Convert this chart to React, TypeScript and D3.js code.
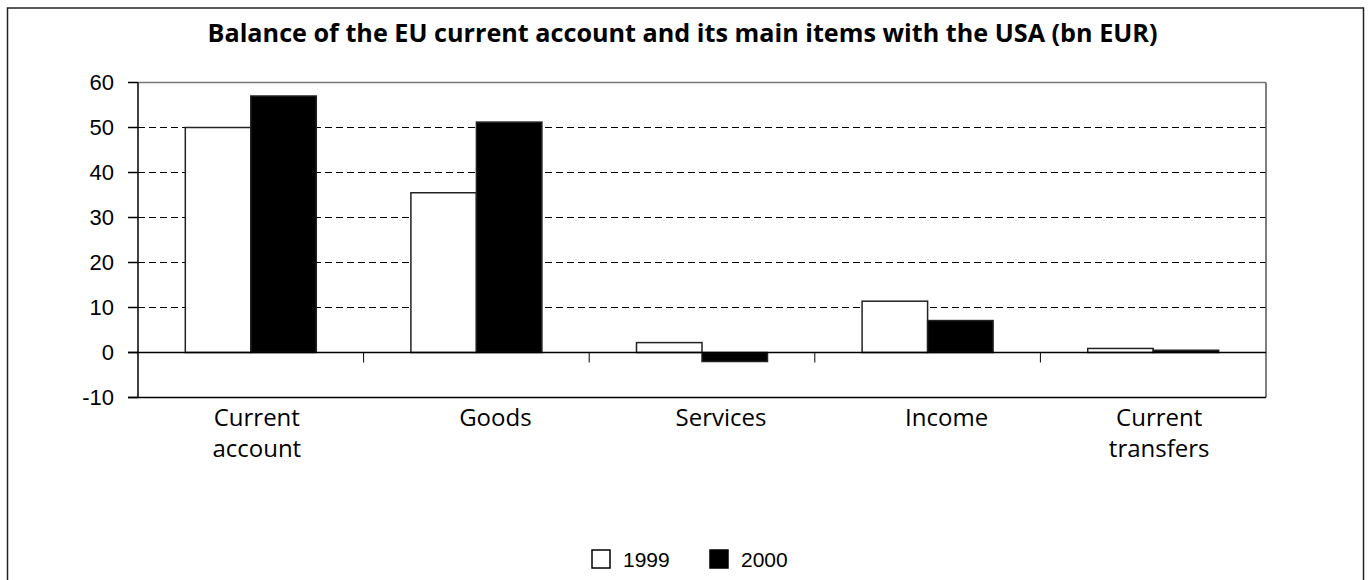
import React from "react";
import * as d3 from "d3";

const categories = ["Current account", "Goods", "Services", "Income", "Current transfers"];
const categoryLines = [["Current", "account"], ["Goods"], ["Services"], ["Income"], ["Current", "transfers"]];
const seriesNames = ["1999", "2000"];
const values1999 = [50, 35.5, 2.2, 11.4, 0.9];
const values2000 = [57, 51.2, -2, 7.1, 0.5];
const yTicks = [-10, 0, 10, 20, 30, 40, 50, 60];
const title = "Balance of the EU current account and its main items with the USA (bn EUR)";

const W = 1372;
const H = 580;
const plot = { left: 138, right: 1266, top: 82.5, bottom: 397.5 };
const fills = ["#ffffff", "#000000"];

export default function App() {
  const x = d3.scaleBand<string>().domain(categories).range([plot.left, plot.right]).padding(0);
  const bw = x.bandwidth();
  const inner = d3
    .scaleBand<string>()
    .domain(seriesNames)
    .range([bw * 0.2097, bw * (1 - 0.2097)])
    .padding(0);
  const y = d3.scaleLinear().domain([-10, 60]).range([plot.bottom, plot.top]);
  const series = [values1999, values2000];
  const axisFont = "'Liberation Sans', Arial, sans-serif";
  const catFont = "'Open Sans', sans-serif";

  return (
    <svg width={W} height={H} style={{ position: "absolute", left: 0, top: 0, background: "#fff" }}>
      <rect x={7.5} y={8} width={1356} height={620} fill="#fff" stroke="#222" strokeWidth={1.5} />
      <text
        x={682.5}
        y={41.5}
        textAnchor="middle"
        fontFamily={catFont}
        fontWeight={700}
        fontSize={25.2}
        fill="#000"
      >
        {title}
      </text>

      {/* gridlines */}
      {yTicks
        .filter((t) => t > 0 && t < 60)
        .map((t) => (
          <line
            key={"g" + t}
            x1={plot.left}
            x2={plot.right}
            y1={y(t)}
            y2={y(t)}
            stroke="#000"
            strokeWidth={1}
            strokeDasharray="7,4"
          />
        ))}

      {/* frame top/right */}
      <line x1={plot.left} x2={plot.right} y1={plot.top} y2={plot.top} stroke="#777" strokeWidth={1.5} />
      <line x1={plot.right} x2={plot.right} y1={plot.top} y2={plot.bottom} stroke="#555" strokeWidth={1.5} />

      {/* bars */}
      {categories.map((c, i) =>
        seriesNames.map((s, j) => {
          const v = series[j][i];
          const x0 = (x(c) as number) + (inner(s) as number);
          const y0 = y(Math.max(0, v));
          const h = Math.abs(y(v) - y(0));
          return (
            <rect
              key={c + s}
              x={x0}
              y={y0}
              width={inner.bandwidth()}
              height={h}
              fill={fills[j]}
              stroke="#222"
              strokeWidth={1.5}
            />
          );
        })
      )}

      {/* zero line and bottom line */}
      <line x1={plot.left - 10} x2={plot.right} y1={y(0)} y2={y(0)} stroke="#000" strokeWidth={1.5} />
      <line x1={plot.left - 10} x2={plot.right} y1={plot.bottom} y2={plot.bottom} stroke="#000" strokeWidth={1.5} />
      {/* left axis */}
      <line x1={plot.left} x2={plot.left} y1={plot.top} y2={plot.bottom} stroke="#000" strokeWidth={1.5} />
      {yTicks.map((t) => (
        <g key={"yt" + t}>
          <line x1={plot.left - 10} x2={plot.left} y1={y(t)} y2={y(t)} stroke="#000" strokeWidth={1.5} />
          <text
            x={114}
            y={y(t)}
            dy="0.36em"
            textAnchor="end"
            fontFamily={axisFont}
            fontSize={22}
            fill="#000"
          >
            {t}
          </text>
        </g>
      ))}

      {/* category tick marks */}
      {categories.slice(1).map((c) => (
        <line
          key={"ct" + c}
          x1={x(c) as number}
          x2={x(c) as number}
          y1={y(0)}
          y2={y(0) + 10}
          stroke="#000"
          strokeWidth={1}
        />
      ))}

      {/* category labels */}
      {categories.map((c, i) => {
        const lines = categoryLines[i];
        const cx = (x(c) as number) + bw / 2 + (lines.length === 1 ? 19 : 6);
        return (
          <text key={"cl" + c} textAnchor="middle" fontFamily={catFont} fontSize={24} fill="#000">
            {lines.map((ln, k) => (
              <tspan key={k} x={cx} y={426 + k * 31}>
                {ln}
              </tspan>
            ))}
          </text>
        );
      })}

      {/* legend */}
      {seriesNames.map((s, j) => {
        const lx = 592 + j * 118;
        return (
          <g key={"lg" + s}>
            <rect x={lx} y={550} width={18} height={18} fill={fills[j]} stroke="#000" strokeWidth={1.5} />
            <text x={lx + 31} y={567} fontFamily={axisFont} fontSize={21} fill="#000">
              {s}
            </text>
          </g>
        );
      })}
    </svg>
  );
}
